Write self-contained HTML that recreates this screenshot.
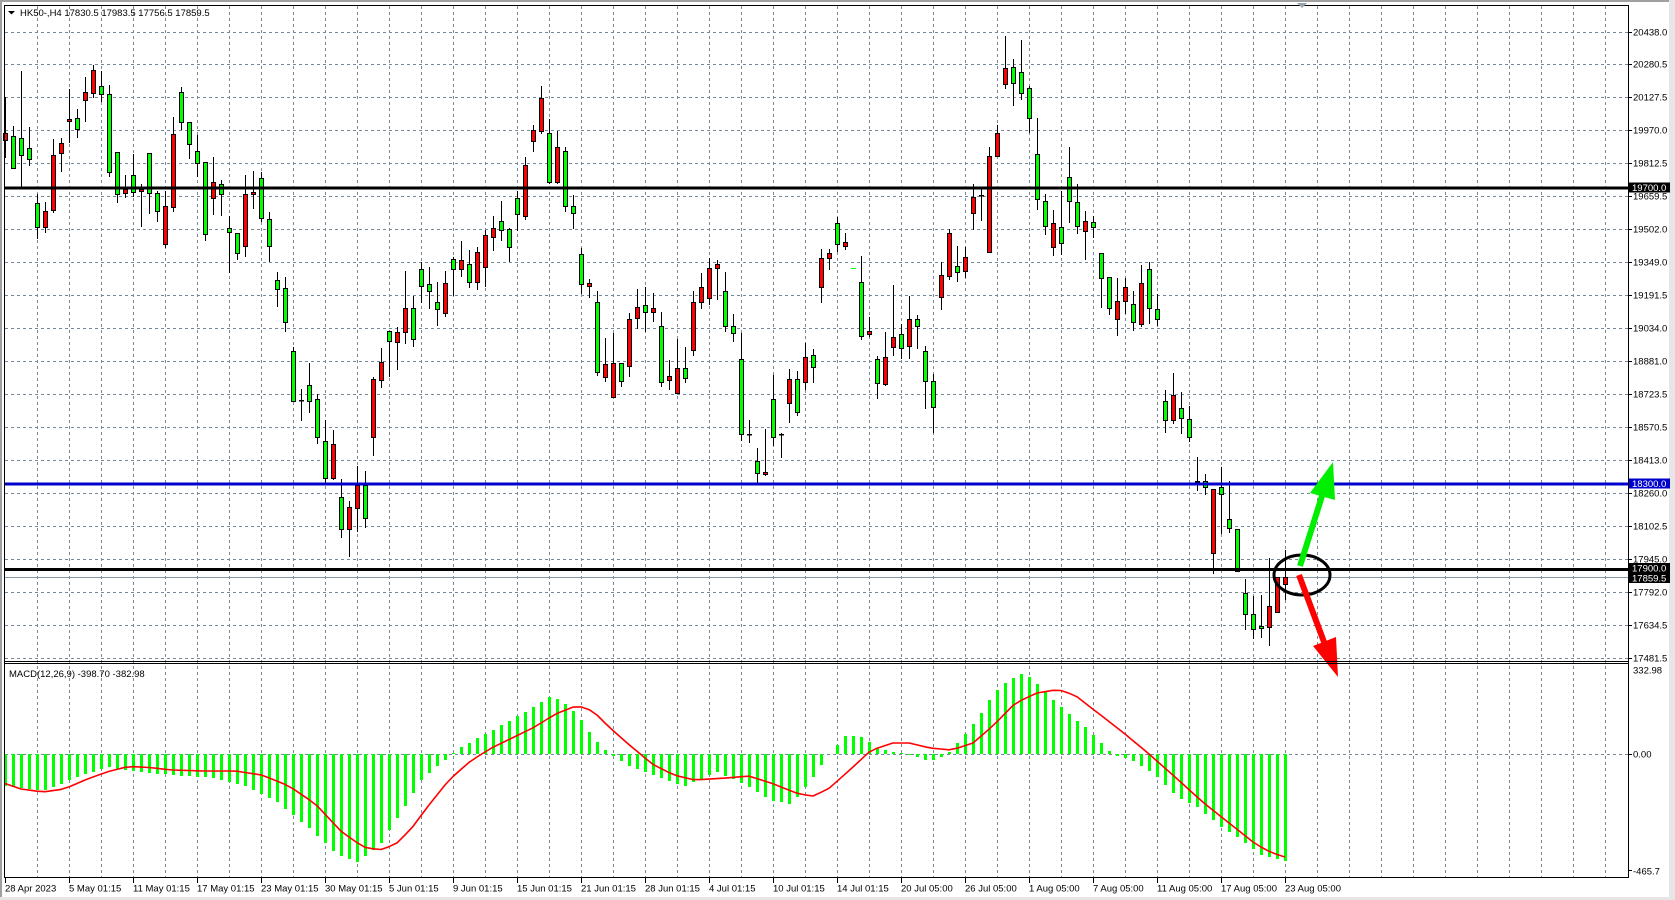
<!DOCTYPE html>
<html><head><meta charset="utf-8">
<style>
html,body{margin:0;padding:0;background:#fff;overflow:hidden;}
svg{display:block;}
text{font-family:"Liberation Sans",Arial,sans-serif;font-size:9.5px;fill:#000;}
</style></head><body>
<svg id="s" width="1675" height="900" xmlns="http://www.w3.org/2000/svg">
<rect width="1675" height="900" fill="#fff"/>
<rect x="0" y="0" width="1675" height="2" fill="#a0a0a0"/>
<rect x="0" y="0" width="2" height="900" fill="#a0a0a0"/>
<rect x="1669" y="0" width="6" height="900" fill="#e6e6e6"/>
<rect x="0" y="897" width="1675" height="3" fill="#e6e6e6"/>
<g id="grid" stroke="#778899" stroke-width="1" stroke-dasharray="3,3" fill="none"></g>
<g id="macd"></g>
<g id="cnd"></g>
<g id="objs"></g>
<g id="frame" stroke="#000" stroke-width="1" fill="none">
  <line x1="4" y1="5.5" x2="1628" y2="5.5"/>
  <line x1="4.5" y1="5" x2="4.5" y2="877"/>
  <line x1="1628.5" y1="5" x2="1628.5" y2="878"/>
  <line x1="4" y1="661.5" x2="1628" y2="661.5"/>
  <line x1="4" y1="663.5" x2="1628" y2="663.5"/>
  <line x1="4" y1="877.5" x2="1629" y2="877.5"/>
</g>
<polygon points="8,11 15,11 11.5,14.5" fill="#000"/>
<text x="20" y="16">HK50-,H4  17830.5 17983.5 17756.5 17859.5</text>
<polygon points="1297,3 1307,3 1302,8" fill="#9aa4ae"/>
<text x="9" y="677">MACD(12,26,9) -398.70 -382.98</text>
<g id="axis"></g>
</svg>
<script>
const NS='http://www.w3.org/2000/svg';
function el(tag,a,p){const e=document.createElementNS(NS,tag);for(const k in a)e.setAttribute(k,a[k]);p.appendChild(e);return e;}
const grid=document.getElementById('grid'),macd=document.getElementById('macd'),cnd=document.getElementById('cnd'),objs=document.getElementById('objs'),axis=document.getElementById('axis');

// grid
const gy=[32,64,97,130,163,196,229,262,295,328,361,394,427,460,493,526,559,592,625,658];
const gl=["20438.0","20280.5","20127.5","19970.0","19812.5","19659.5","19502.0","19349.0","19191.5","19034.0","18881.0","18723.5","18570.5","18413.0","18260.0","18102.5","17945.0","17792.0","17634.5","17481.5"];
gy.forEach((y,k)=>{
  el('line',{x1:5,y1:y+0.5,x2:1628,y2:y+0.5},grid);
  el('line',{x1:1628,y1:y+0.5,x2:1632,y2:y+0.5,stroke:'#000'},axis);
  const t=el('text',{x:1633,y:y+3.5},axis);t.textContent=gl[k];
});
el('line',{x1:5,y1:754.5,x2:1628,y2:754.5},grid);
for(let k=1;k<=50;k++){const x=5+32*k+0.5;el('line',{x1:x,y1:6,x2:x,y2:877},grid);}
[["332.98",673.5],["0.00",757.5],["-465.7",874.5]].forEach(a=>{const t=el('text',{x:1633,y:a[1]},axis);t.textContent=a[0];});
el('line',{x1:1628,y1:754.5,x2:1632,y2:754.5,stroke:'#000'},axis);
el('line',{x1:1628,y1:870.5,x2:1632,y2:870.5,stroke:'#000'},axis);
// time labels
const tl=["28 Apr 2023","5 May 01:15","11 May 01:15","17 May 01:15","23 May 01:15","30 May 01:15","5 Jun 01:15","9 Jun 01:15","15 Jun 01:15","21 Jun 01:15","28 Jun 01:15","4 Jul 01:15","10 Jul 01:15","14 Jul 01:15","20 Jul 05:00","26 Jul 05:00","1 Aug 05:00","7 Aug 05:00","11 Aug 05:00","17 Aug 05:00","23 Aug 05:00"];
tl.forEach((s,k)=>{const x=5+64*k;el('line',{x1:x+0.5,y1:877,x2:x+0.5,y2:883,stroke:'#000'},axis);const t=el('text',{x:x,y:891.5},axis);t.textContent=s;});

// bid line
el('line',{x1:5,y1:577.5,x2:1628,y2:577.5,stroke:'#8899aa','stroke-width':1},cnd);

// MACD
function interp(P,i){if(i<=P[0][0])return P[0][1];for(let k=1;k<P.length;k++){if(i<=P[k][0]){const a=P[k-1],b=P[k];return a[1]+(b[1]-a[1])*(i-a[0])/(b[0]-a[0]);}}return P[P.length-1][1];}
const HP=[[0,786],[4.7,791],[8.7,778],[12.7,767],[16.7,772],[20.8,775],[26,778],[30,786],[34,802],[38,828],[41.5,855],[44,862],[46.8,845],[49.5,812],[52,780],[54.8,761],[56.8,748],[59.5,736],[62.8,722],[66.2,706],[67.8,697],[69.5,700],[71.5,714],[73.5,738],[75.5,754],[78.2,767],[80.9,775],[84.9,786],[88.9,772],[92.9,786],[95.6,800],[98.3,804],[100.9,778],[103,754],[104.9,736],[106.9,736],[109,748],[113,755],[115.6,761],[117.6,755],[119.6,738],[121.6,718],[123.6,693],[125.6,679],[127.4,673],[129,684],[131,700],[133,714],[135.7,732],[138.3,754],[141,761],[143.7,775],[146.4,796],[149,807],[151.7,825],[154.4,839],[157,855],[160,861]];
const SP=[[0,783.5],[2,789],[4.7,792],[7.4,789],[10,780],[12.7,772],[15.4,766.5],[18.1,767.5],[20.8,770],[24.8,771],[28.8,771],[32.1,775],[35.5,786],[38.8,804],[42.1,832],[44.8,847],[46.8,850],[48.8,844.5],[50.8,828.5],[52.8,807],[55.5,780],[58.2,761],[60.8,748],[63.5,737.6],[66.2,727],[68.8,714],[71.5,705.5],[73.5,711],[75.5,727],[78.2,746],[80.9,764],[83.6,775],[86.2,780],[90.2,778],[92.9,776],[95.6,782.5],[98.9,793],[100.9,796.4],[102.9,789],[105.6,770],[108.3,750],[111,743],[113,743],[115.6,748],[118.3,750],[121,743],[123.6,725],[126.3,703],[129,693],[131.6,689.5],[133.7,695],[136.3,711],[139.7,732],[143,754],[146.4,778],[149.7,802],[153,823],[156.4,844.5],[158.4,853],[160,857]];
const Z=754;
for(let i=0;i<=160;i++){
  const x=5+8*i;const v=Math.round(interp(HP,i));
  const y1=Math.min(v,Z),y2=Math.max(v,Z);
  if(y2-y1>=1)el('rect',{x:x-1,y:y1,width:3,height:y2-y1,fill:'#00ff00'},macd);
}
let pts=[];for(let i=0;i<=160;i++)pts.push((5+8*i)+','+interp(SP,i).toFixed(1));
el('polyline',{points:pts.join(' '),fill:'none',stroke:'#ff0000','stroke-width':1.6,'stroke-linejoin':'round'},macd);

// candles [H,L,bodyTop,bodyBottom,color]
const C=[[97,158,133,140,'r'],[126,168,136,168,'g'],[71,187,138,155,'g'],[127,166,148,159,'g'],[194,239,203,227,'g'],[202,233,211,227,'r'],[139,213,155,210,'r'],[138,172,143,153,'r'],[89,143,119,121,'r'],[109,138,118,129,'g'],
[77,122,92,100,'r'],[65,98,70,93,'r'],[71,102,86,94,'g'],[85,177,94,172,'g'],[152,203,152,194,'g'],[175,198,189,193,'r'],[154,197,175,192,'g'],[184,227,189,191,'r'],[153,214,153,193,'g'],[191,222,193,211,'g'],
[191,248,206,244,'r'],[117,212,134,207,'r'],[87,130,92,122,'g'],[122,159,122,144,'g'],[135,177,151,163,'g'],[162,241,162,234,'g'],[157,215,182,198,'r'],[180,216,184,194,'g'],[216,273,228,232,'g'],[233,260,233,253,'g'],
[175,257,194,246,'r'],[171,209,192,194,'r'],[172,222,178,218,'g'],[212,262,219,246,'g'],[272,307,280,289,'g'],[277,332,288,322,'g'],[347,402,351,401,'g'],[389,421,400,401,'d'],[363,413,385,401,'g'],[394,444,399,437,'g'],
[420,483,441,478,'g'],[430,480,444,478,'r'],[479,538,497,529,'g'],[501,557,507,529,'r'],[466,532,485,508,'r'],[471,528,485,518,'g'],[377,456,379,437,'r'],[348,388,362,380,'r'],[331,377,331,341,'g'],[327,370,332,342,'r'],
[271,344,308,332,'r'],[296,347,308,339,'g'],[262,303,269,286,'g'],[267,309,284,291,'g'],[282,326,302,309,'g'],[271,317,283,313,'r'],[257,296,259,269,'g'],[241,277,260,269,'r'],[250,288,264,282,'g'],[247,290,252,282,'r'],
[230,287,235,267,'r'],[216,251,228,237,'r'],[201,241,221,230,'g'],[228,262,229,247,'g'],[191,231,198,214,'g'],[157,220,165,216,'r'],[125,152,130,141,'r'],[86,134,98,131,'r'],[119,184,133,182,'g'],[131,184,147,182,'r'],
[147,212,151,206,'g'],[195,229,206,213,'g'],[248,294,254,284,'g'],[279,298,283,286,'r'],[291,376,302,372,'g'],[338,382,364,377,'r'],[333,397,363,397,'r'],[363,387,363,381,'g'],[313,377,319,366,'r'],[289,329,307,318,'r'],
[287,332,305,312,'g'],[293,322,308,312,'r'],[312,387,326,382,'g'],[360,390,376,380,'r'],[339,393,368,393,'r'],[347,383,368,378,'g'],[291,356,302,350,'r'],[273,309,287,302,'r'],[258,305,268,298,'r'],[260,300,264,268,'r'],
[272,332,291,326,'g'],[314,342,326,333,'g'],[333,441,359,434,'g'],[420,443,434,434,'d'],[448,483,461,473,'g'],[429,476,472,474,'r'],[375,446,399,437,'g'],[433,458,434,434,'d'],[369,423,379,403,'r'],[371,416,379,412,'g'],
[343,390,357,382,'r'],[349,383,355,367,'g'],[249,303,258,287,'r'],[249,270,253,258,'r'],[217,252,223,244,'g'],[233,250,242,246,'r'],[268,268,268,268,'x'],[256,340,282,336,'g'],[317,337,331,334,'r'],[356,399,359,383,'g'],
[332,386,357,384,'r'],[285,356,337,347,'r'],[324,359,334,348,'g'],[296,359,319,346,'r'],[315,349,319,326,'g'],[346,409,351,381,'g'],[374,433,381,407,'g'],[262,310,275,297,'r'],[229,280,233,276,'r'],[246,282,266,272,'g'],
[247,278,257,271,'r'],[184,230,197,213,'r'],[187,221,195,195,'d'],[147,253,156,252,'r'],[125,156,133,156,'r'],[36,89,68,84,'r'],[59,106,67,83,'g'],[40,100,72,93,'g'],[86,133,88,118,'g'],[118,210,154,199,'g'],
[194,235,201,226,'g'],[210,256,223,247,'r'],[191,255,227,243,'g'],[147,223,177,201,'g'],[184,234,202,226,'g'],[211,260,221,231,'r'],[216,238,222,227,'g'],[253,308,253,278,'g'],[277,315,277,308,'g'],[278,336,301,319,'r'],
[278,314,287,301,'r'],[291,331,304,322,'g'],[265,327,283,324,'r'],[262,324,269,308,'g'],[294,326,309,319,'g'],[390,433,401,420,'g'],[373,424,395,420,'r'],[392,434,408,418,'g'],[406,442,419,437,'g'],[457,491,481,482,'d'],
[474,495,481,487,'g'],[489,574,489,553,'r'],[467,534,487,494,'g'],[481,533,519,528,'g'],[529,572,529,571,'g'],[579,630,593,614,'g'],[596,639,614,629,'g'],[595,638,626,628,'g'],[558,646,606,627,'r'],[577,612,577,612,'r'],
[550,600,577,584,'r']];
C.forEach((c,i)=>{
  const x=5+8*i;const [H,L,bt,bb,col]=c;
  if(col==='x'){el('rect',{x:x-2,y:bt,width:5,height:1,fill:'#00ff00'},cnd);return;}
  el('rect',{x:x,y:H,width:1,height:Math.max(1,L-H),fill:'#000'},cnd);
  if(col==='d'){el('rect',{x:x-2,y:bt,width:5,height:1.5,fill:'#000'},cnd);return;}
  const h=Math.max(2,bb-bt);
  el('rect',{x:x-2,y:bt,width:5,height:h+1,fill:'#000'},cnd);
  if(h>1)el('rect',{x:x-1,y:bt+1,width:3,height:h-1,fill:col==='g'?'#00ff00':'#ff0000'},cnd);
});

// horizontal lines
el('rect',{x:5,y:186.5,width:1623,height:3,fill:'#000'},objs);
el('rect',{x:5,y:482.5,width:1623,height:3,fill:'#0000cd'},objs);
el('rect',{x:5,y:568,width:1623,height:3,fill:'#000'},objs);
// ellipse & arrows
el('ellipse',{cx:1302,cy:575,rx:28,ry:20,fill:'none',stroke:'#000','stroke-width':3},objs);
el('line',{x1:1300,y1:566,x2:1322,y2:496,stroke:'#00ee00','stroke-width':6},objs);
el('polygon',{points:'1333,462 1310,493 1335,500',fill:'#00ee00'},objs);
el('line',{x1:1299,y1:575,x2:1324,y2:642,stroke:'#ff0000','stroke-width':6},objs);
el('polygon',{points:'1313,646 1336,637 1338,677',fill:'#ff0000'},objs);

// axis label boxes
function box(y,h,txt,bg){el('rect',{x:1629,y:y,width:41,height:h,fill:bg},axis);const t=el('text',{x:1632,y:y+h-1.5,style:'fill:#fff'},axis);t.textContent=txt;}
box(182.5,10,"19700.0","#000");
box(478.5,10,"18300.0","#0000cd");
box(563,10,"17900.0","#000");
box(573,10,"17859.5","#000");
</script>
</body></html>
